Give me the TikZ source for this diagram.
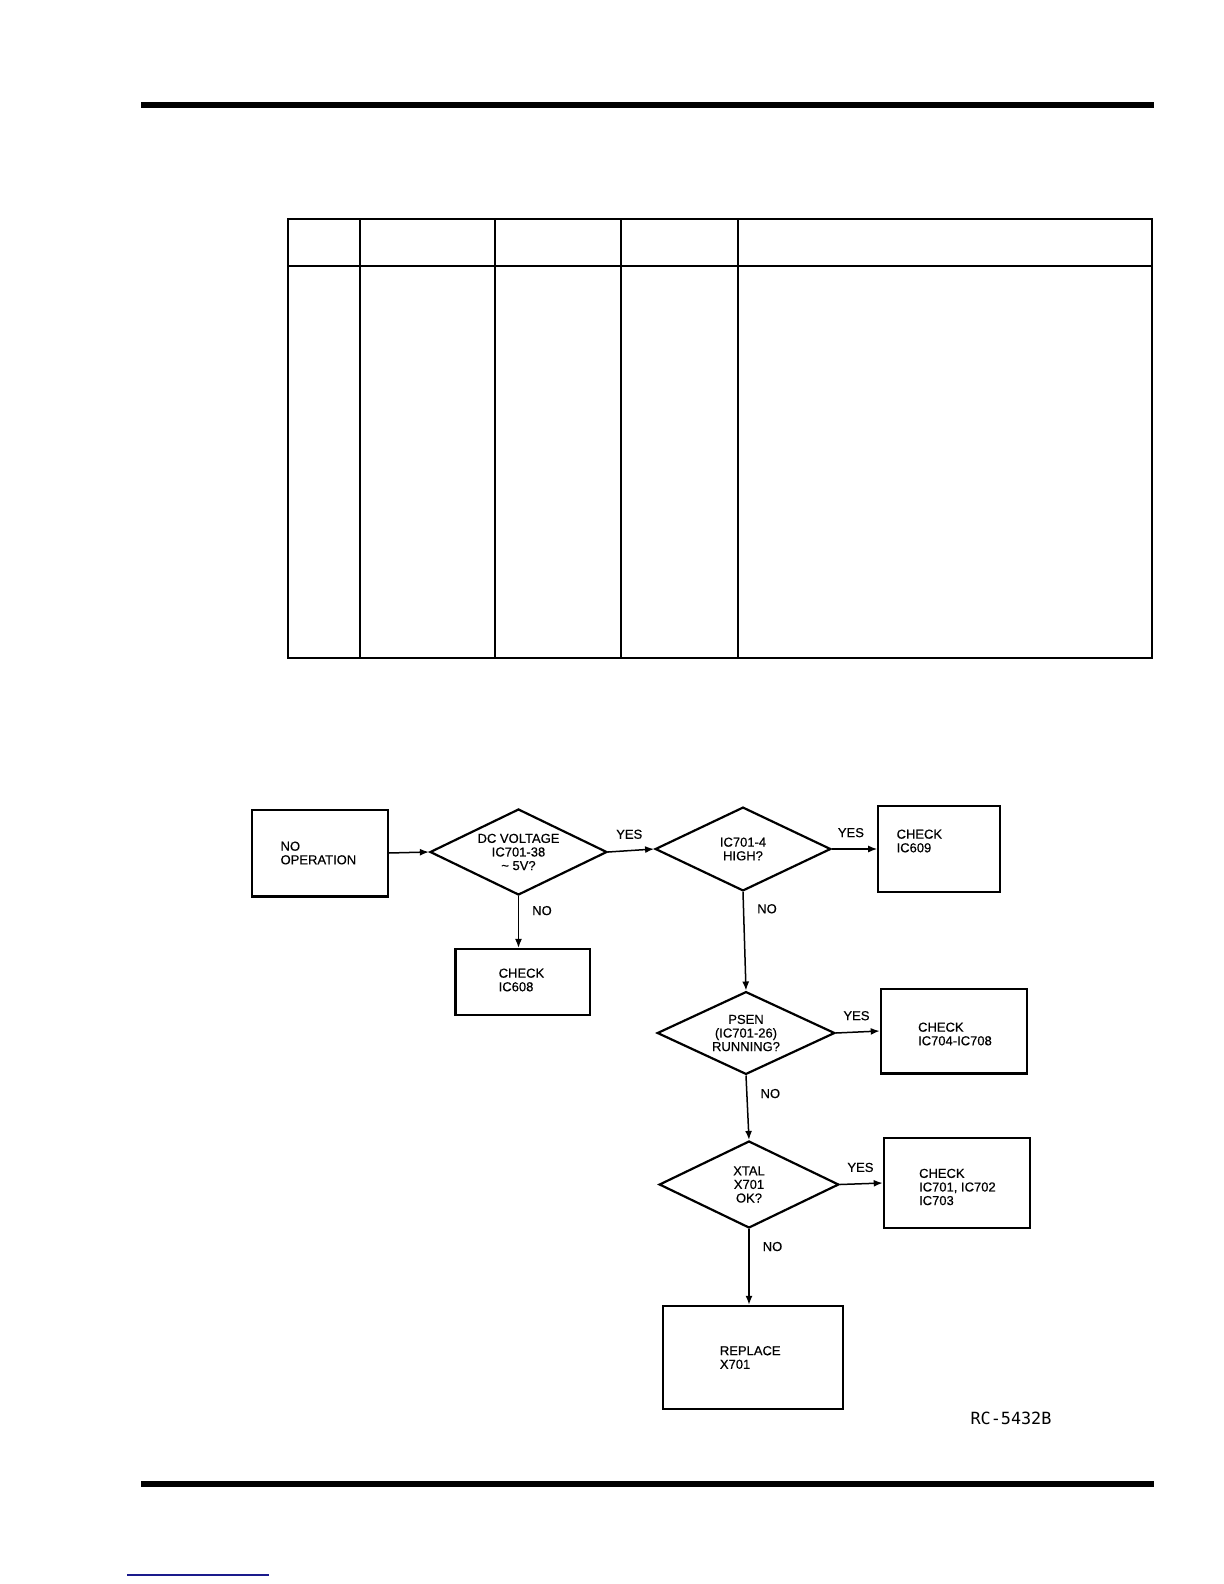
\documentclass[tikz,border=0pt]{standalone}
\usepackage{fontspec}
\setmainfont{Liberation Sans}
\newfontfamily\chartface[FakeBold=0.5]{Liberation Sans}
\newfontfamily\plotfont{DejaVu Sans Mono}
\usepackage{tikz}
\usetikzlibrary{shapes.geometric,arrows.meta,positioning}
\definecolor{linkblue}{HTML}{1A1A8C}
\newcommand\flowfont{\chartface\fontsize{6.5pt}{6.8pt}\selectfont}

\begin{document}
\begin{tikzpicture}[x=0.5pt,y=-0.5pt,
    box/.style={draw,line width=1.1pt,inner sep=0pt},
    dmd/.style={draw,diamond,aspect=2,line width=1.1pt,inner sep=0pt,align=center,font=\flowfont},
    txt/.style={anchor=west,align=left,inner sep=0pt,font=\flowfont},
    lbl/.style={inner sep=0pt,font=\flowfont},
    arr/.style={line width=0.75pt,-{Latex[length=4.5pt,width=3.5pt]}}]
    \useasboundingbox (0,0) rectangle (1224,1584);
    \fill (141,102) rectangle (1154,108);
    \fill (141,1481) rectangle (1154,1487);
    \draw[linkblue,line width=0.8pt] (127,1575) -- (269,1575);
    % empty table
    \draw[line width=0.8pt] (288,219) rectangle (1152,658);
    \draw[line width=0.8pt] (288,266) -- (1152,266);
    \foreach \cx in {360,495,621,738}
      \draw[line width=0.8pt] (\cx,219) -- (\cx,658);
    % flow chart
    \node[box,minimum width=67.7pt,minimum height=43.4pt] (start) at (320,853) {};
    \node[txt] (startt) at ([xshift=14.5pt]start.west) {NO\\OPERATION};
    \node[dmd,minimum width=88.5pt,minimum height=43pt] (dcv) at (518.5,852) {DC VOLTAGE\\IC701-38\\\textasciitilde\ 5V?};
    \node[dmd,minimum width=87.8pt,minimum height=41.9pt] (high) at (743,849) {IC701-4\\HIGH?};
    \node[box,minimum width=60.7pt,minimum height=42.9pt] (c609) at (939,849) {};
    \node[txt] (c609t) at ([xshift=9.5pt,yshift=4pt]c609.west) {CHECK\\IC609};
    \node[box,minimum width=67.2pt,minimum height=33pt] (c608) at (522.6,982) {};
    \node[txt] (c608t) at ([xshift=22pt,yshift=1pt]c608.west) {CHECK\\IC608};
    \node[dmd,minimum width=88.8pt,minimum height=41.4pt] (psen) at (746,1033) {PSEN\\(IC701-26)\\RUNNING?};
    \node[box,minimum width=73.2pt,minimum height=42.4pt] (c704) at (954,1031) {};
    \node[txt] (c704t) at ([xshift=19pt,yshift=-1.5pt]c704.west) {CHECK\\IC704-IC708};
    \node[dmd,minimum width=89.8pt,minimum height=43.5pt] (xtal) at (749,1184.5) {XTAL\\X701\\OK?};
    \node[box,minimum width=73.2pt,minimum height=44.9pt] (c701) at (957,1183) {};
    \node[txt] (c701t) at ([xshift=18pt,yshift=-2pt]c701.west) {CHECK\\IC701, IC702\\IC703};
    \node[box,minimum width=89.9pt,minimum height=51.6pt] (rep) at (753,1357.5) {};
    \node[txt] (rept) at ([xshift=28.75pt]rep.west) {REPLACE\\X701};
    \node[font=\plotfont\fontsize{8.4pt}{9pt}\selectfont,inner sep=0pt] (rc) at (1011,1418) {RC-5432B};

    \draw[arr] (start.east) -- (dcv.west);
    \draw[arr] (dcv.east) -- node[lbl,pos=0.46,above=5.5pt] (y1) {YES} (high.west);
    \draw[arr] (high.east) -- node[lbl,pos=0.42,above=5.5pt] (y2) {YES} (c609.west);
    \draw[arr] (dcv.south) -- node[lbl,pos=0.28,right=6.5pt] (n1) {NO} (dcv.south |- c608.north);
    \draw[arr] (high.south) -- node[lbl,pos=0.17,right=6.5pt] (n2) {NO} (psen.north);
    \draw[arr] (psen.east) -- node[lbl,pos=0.47,above=5.5pt] (y3) {YES} (c704.west);
    \draw[arr] (psen.south) -- node[lbl,pos=0.28,right=6.5pt] (n3) {NO} (xtal.north);
    \draw[arr] (xtal.east) -- node[lbl,pos=0.48,above=5.5pt] (y4) {YES} (c701.west);
    \draw[arr] (xtal.south) -- node[lbl,pos=0.23,right=6.5pt] (n4) {NO} (xtal.south |- rep.north);
  \end{tikzpicture}
\end{document}
